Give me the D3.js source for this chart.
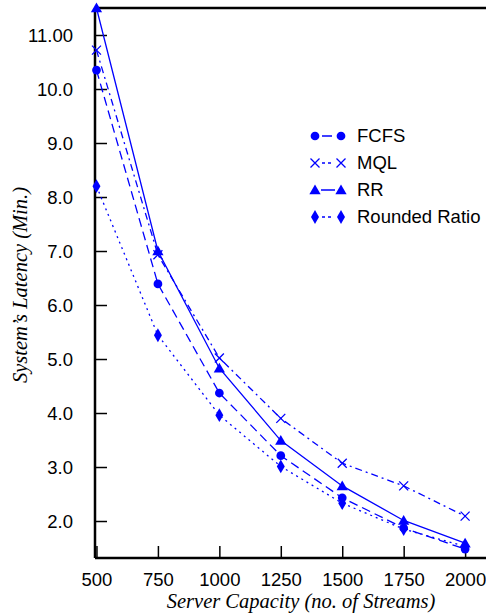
<!DOCTYPE html>
<html>
<head>
<meta charset="utf-8">
<script src="https://cdn.jsdelivr.net/npm/d3@7"></script>
<style>
  body { margin: 0; background: #fff; }
  .tick text { font-family: "Liberation Sans", Arial, sans-serif; font-size: 18.5px; fill: #000; }
  .axis-title { font-family: "Liberation Serif", "Times New Roman", serif; font-style: italic; font-size: 20.5px; }
</style>
</head>
<body>
<div id="chart"></div>
<script>
// data
var capacity = [500, 750, 1000, 1250, 1500, 1750, 2000];
var fcfs = [10.35, 6.39, 4.37, 3.21, 2.43, 1.87, 1.48];
var mql = [10.72, 6.93, 5.02, 3.9, 3.07, 2.65, 2.09];
var rr = [11.5, 7.0, 4.83, 3.49, 2.65, 2.01, 1.59];
var rounded = [8.2, 5.44, 3.96, 3.01, 2.33, 1.85, 1.53];
var yTicks = [2, 3, 4, 5, 6, 7, 8, 9, 10, 11];
var yTickLabels = ["2.0", "3.0", "4.0", "5.0", "6.0", "7.0", "8.0", "9.0", "10.0", "11.00"];

var series = [
  {name: "FCFS", values: fcfs, dash: "9,5", symbol: d3.symbolCircle, size: 60},
  {name: "MQL", values: mql, dash: "7,4,2,4", symbol: "x", size: 0},
  {name: "RR", values: rr, dash: null, symbol: d3.symbolTriangle, size: 55},
  {name: "Rounded Ratio", values: rounded, dash: "2,4", symbol: d3.symbolDiamond, size: 55}
];

var svgWidth = 486, svgHeight = 614;
var margin = {top: 8, right: 0, bottom: 56, left: 95};
var width = svgWidth - margin.left - margin.right;
var height = svgHeight - margin.top - margin.bottom;
var blue = "#0000ff";

var svg = d3.select("#chart").append("svg")
  .attr("width", svgWidth)
  .attr("height", svgHeight);

var chartGroup = svg.append("g")
  .attr("transform", `translate(${margin.left}, ${margin.top})`);

var xScale = d3.scaleLinear().domain([494, 2085]).range([0, width]);
var yScale = d3.scaleLinear().domain([1.315, 11.5]).range([height, 0]);

// axes with inward ticks
var bottomAxis = d3.axisBottom(xScale).tickValues(capacity)
  .tickFormat(d3.format("d")).tickSize(-12).tickPadding(15);
var leftAxis = d3.axisLeft(yScale).tickValues(yTicks)
  .tickFormat((d, i) => yTickLabels[i]).tickSize(-12).tickPadding(22);

var xAxis = chartGroup.append("g")
  .attr("transform", `translate(0, ${height})`)
  .call(bottomAxis);
xAxis.select(".domain").remove();
xAxis.selectAll(".tick line").attr("stroke", "#000").attr("stroke-width", 1.5);

var yAxis = chartGroup.append("g").call(leftAxis);
yAxis.select(".domain").remove();
yAxis.selectAll(".tick line").attr("stroke", "#000").attr("stroke-width", 1.5);
yAxis.selectAll(".tick text").attr("dy", "0.35em");

// frame: left, bottom and top lines
chartGroup.append("line").attr("x1", 0).attr("x2", 0).attr("y1", 0).attr("y2", height)
  .attr("stroke", "#000").attr("stroke-width", 2.5);
chartGroup.append("line").attr("x1", 0).attr("x2", width).attr("y1", height).attr("y2", height)
  .attr("stroke", "#000").attr("stroke-width", 2.5);
chartGroup.append("line").attr("x1", 0).attr("x2", width).attr("y1", 0).attr("y2", 0)
  .attr("stroke", "#000").attr("stroke-width", 2.5);

function drawMarker(g, s, x, y) {
  if (s.symbol === "x") {
    g.append("path")
      .attr("d", `M${x - 4.5},${y - 4.5}L${x + 4.5},${y + 4.5}M${x - 4.5},${y + 4.5}L${x + 4.5},${y - 4.5}`)
      .attr("stroke", blue).attr("stroke-width", 1.3).attr("fill", "none");
  } else {
    var yy = s.symbol === d3.symbolTriangle ? y + 1 : y;
    g.append("path")
      .attr("d", d3.symbol().type(s.symbol).size(s.size)())
      .attr("transform", `translate(${x}, ${yy})`)
      .attr("fill", blue);
  }
}

var line = d3.line()
  .x((d, i) => xScale(capacity[i]))
  .y(d => yScale(d));

series.forEach(function(s) {
  chartGroup.append("path")
    .datum(s.values)
    .attr("d", line)
    .attr("fill", "none")
    .attr("stroke", blue)
    .attr("stroke-width", 1.3)
    .attr("stroke-dasharray", s.dash);
  var mg = chartGroup.append("g");
  s.values.forEach(function(v, i) {
    drawMarker(mg, s, xScale(capacity[i]), yScale(v));
  });
});

// legend
var legend = svg.append("g").attr("transform", "translate(315, 136)");
series.forEach(function(s, i) {
  var row = legend.append("g").attr("transform", `translate(0, ${i * 27})`);
  row.append("line").attr("x1", 0).attr("x2", 26).attr("y1", 0).attr("y2", 0)
    .attr("stroke", blue).attr("stroke-width", 1.3)
    .attr("stroke-dasharray", s.dash ? (s.name === "FCFS" ? "0,7,10,20" : "0,7,3,3,3,20") : "0,6,14,20");
  drawMarker(row, s, 0, 0);
  drawMarker(row, s, 26, 0);
  row.append("text")
    .attr("x", 42).attr("y", 0).attr("dy", "0.35em")
    .style("font-family", "Liberation Sans, Arial, sans-serif")
    .style("font-size", "18.5px")
    .text(s.name);
});

// axis titles
svg.append("text")
  .attr("class", "axis-title")
  .attr("x", 301).attr("y", 608)
  .attr("text-anchor", "middle")
  .text("Server Capacity (no. of Streams)");

svg.append("text")
  .attr("class", "axis-title")
  .attr("transform", "translate(27, 285) rotate(-90)")
  .attr("text-anchor", "middle")
  .text("System\u2019s Latency (Min.)");
</script>
</body>
</html>
